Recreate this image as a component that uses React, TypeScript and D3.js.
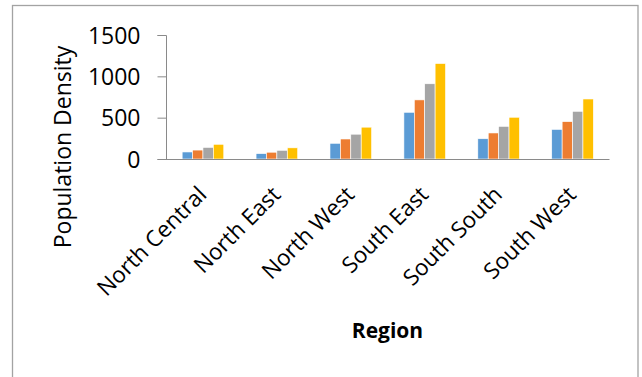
import { useEffect, useRef } from 'react'
import * as d3 from 'd3'

const regions = ['North Central', 'North East', 'North West', 'South East', 'South South', 'South West']
const seriesNames = ['Series1', 'Series2', 'Series3', 'Series4']
const series1 = [85, 65, 190, 565, 245, 358]
const series2 = [108, 82, 242, 715, 315, 452]
const series3 = [140, 105, 300, 910, 395, 577]
const series4 = [178, 135, 385, 1155, 505, 726]
const yTicks = [0, 500, 1000, 1500]
const colors = ['#5B9BD5', '#ED7D31', '#A5A5A5', '#FFC000']

export default function App() {
  const svgRef = useRef<SVGSVGElement>(null)

  useEffect(() => {
    if (!svgRef.current) return
    const svg = d3.select(svgRef.current)
    svg.selectAll('*').remove()

    const W = 642, H = 377
    const left = 166, right = 609.5, top = 35, bottom = 159
    const font = '"Open Sans", sans-serif'

    // chart frame
    svg.append('rect')
      .attr('x', 12.5).attr('y', 5.5)
      .attr('width', 625.5).attr('height', 420)
      .attr('fill', 'white')
      .attr('stroke', '#a3a3a3')
      .attr('stroke-width', 1.3)

    const x = d3.scaleBand<string>().domain(regions).range([left, right])
    const y = d3.scaleLinear().domain([0, 1500]).range([bottom, top])
    const groupW = x.bandwidth() * 0.563
    const x1 = d3.scaleBand<string>().domain(seriesNames).range([0, groupW])

    const all = [series1, series2, series3, series4]
    const rows = regions.flatMap((r, i) =>
      seriesNames.map((s, j) => ({ region: r, series: s, value: all[j][i], color: colors[j] })))

    const g = svg.append('g')

    g.selectAll('rect.bar')
      .data(rows)
      .join('rect')
      .attr('class', 'bar')
      .attr('x', (d) => x(d.region)! + (x.bandwidth() - groupW) / 2 + x1(d.series)!)
      .attr('y', (d) => y(d.value))
      .attr('width', x1.bandwidth())
      .attr('height', (d) => y(0) - y(d.value))
      .attr('fill', (d) => d.color)
      .attr('stroke', '#fff')
      .attr('stroke-width', 0.6)

    // y axis
    const yAxis = d3.axisLeft(y).tickValues(yTicks).tickSize(8.5).tickPadding(17).tickFormat(d3.format('d'))
    const ya = svg.append('g').attr('transform', `translate(${left},0)`).call(yAxis)
    ya.select('.domain').attr('stroke', '#8a8a8a')
    ya.selectAll('.tick line').attr('stroke', '#8a8a8a')
    ya.selectAll('.tick text')
      .attr('font-family', font)
      .attr('font-size', 23)
      .attr('fill', '#000')
      .attr('dy', '0.36em')

    // x axis line
    svg.append('line')
      .attr('x1', left).attr('x2', right)
      .attr('y1', y(0) + 0.5).attr('y2', y(0) + 0.5)
      .attr('stroke', '#8a8a8a')

    // category labels
    svg.selectAll('text.cat')
      .data(regions)
      .join('text')
      .attr('class', 'cat')
      .attr('transform', (d) => `translate(${x(d)! + x.bandwidth() / 2 + 5},196) rotate(-45)`)
      .attr('text-anchor', 'end')
      .attr('font-family', font)
      .attr('font-size', 22.5)
      .attr('fill', '#000')
      .text((d) => d)

    // axis titles
    svg.append('text')
      .attr('transform', `translate(70.5,147) rotate(-90)`)
      .attr('text-anchor', 'middle')
      .attr('font-family', font)
      .attr('font-size', 23)
      .attr('fill', '#000')
      .text('Population Density')

    svg.append('text')
      .attr('x', 387.5).attr('y', 337.5)
      .attr('text-anchor', 'middle')
      .attr('font-family', font)
      .attr('font-size', 21)
      .attr('font-weight', 'bold')
      .attr('fill', '#000')
      .text('Region')

    svg.attr('width', W).attr('height', H)
  }, [])

  return (
    <svg
      ref={svgRef}
      width={642}
      height={377}
      style={{ position: 'absolute', left: 0, top: 0, background: '#fff' }}
    />
  )
}
